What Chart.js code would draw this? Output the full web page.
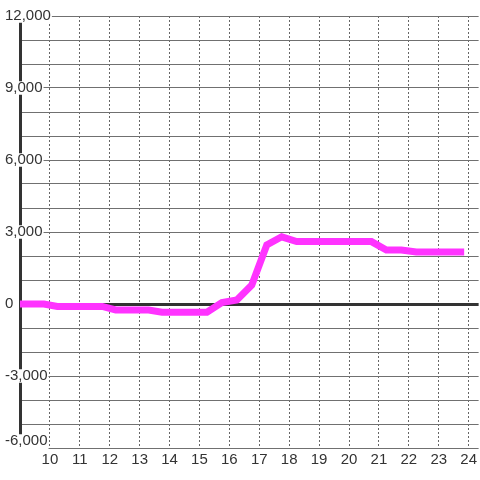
<!DOCTYPE html>
<html>
<head>
<meta charset="utf-8">
<script src="https://cdn.jsdelivr.net/npm/chart.js@4"></script>
<style>
  html, body { margin: 0; padding: 0; background: #fff; }
  #box { width: 480px; height: 480px; }
</style>
</head>
<body>
<div id="box"><canvas id="graf"></canvas></div>
<script>
// hodiny a hodnoty odcitane z obrazku
const hodiny = [9, 9.8, 10.25, 11.75, 12.2, 13.3, 13.75, 15.25, 15.75, 16.25, 16.75, 17.25, 17.75, 18.25, 20.75, 21.25, 21.75, 22.25, 23.85];
const hodnoty = [0, 0, -100, -100, -250, -250, -340, -340, 60, 170, 790, 2460, 2800, 2600, 2600, 2250, 2250, 2170, 2170];

const xMin = 9;
const xMax = 24.333;
const yMin = -6000;
const yMax = 12000;
const yKrok = 1000;
const yPopis = 3000;
// spodny popis je v obrazku trochu vyssie, druha os posunuta o ~7 px
const posun = 7 * (yMax - yMin) / 432;

const body = hodiny.map((h, i) => ({ x: h, y: hodnoty[i] }));

const data = {
  datasets: [{
    data: body,
    borderColor: '#ff33ff',
    borderWidth: 7,
    pointRadius: 0,
    tension: 0,
    borderCapStyle: 'butt',
    fill: false
  }]
};

const pismo = { family: 'Liberation Sans', size: 15, lineHeight: 0.9 };

var config = {
  type: 'line',
  data: data,
  options: {
    responsive: false,
    animation: false,
    maintainAspectRatio: false,
    layout: { padding: { left: 20, top: 16, right: 0, bottom: 0 } },
    plugins: { legend: { display: false }, tooltip: { enabled: false } },
    scales: {
      x: {
        type: 'linear',
        min: xMin,
        max: xMax,
        afterFit: (s) => { s.height = 32; },
        ticks: {
          stepSize: 1,
          includeBounds: false,
          autoSkip: false,
          maxRotation: 0,
          padding: 3,
          color: '#333',
          z: 1,
          font: { family: 'Liberation Sans', size: 15 },
          callback: (v) => v === xMin ? '' : String(v)
        },
        grid: {
          drawTicks: false,
          color: (c) => c.tick && c.tick.value === xMin ? 'rgba(0,0,0,0)' : '#666',
          lineWidth: 1
        },
        border: { display: false, dash: [2, 2] }
      },
      y: {
        min: yMin,
        max: yMax,
        afterFit: (s) => { s.width = 0; },
        ticks: {
          stepSize: yKrok,
          autoSkip: false,
          mirror: true,
          padding: -15,
          color: '#333',
          font: pismo,
          showLabelBackdrop: true,
          backdropColor: '#fff',
          backdropPadding: { left: 1, right: 1, top: 0, bottom: 0 },
          callback: (v) => (v % yPopis === 0 && v !== yMin) ? v.toLocaleString('en-US') : ''
        },
        grid: {
          drawTicks: false,
          color: (c) => c.tick && c.tick.value === 0 ? '#333' : '#707070',
          lineWidth: (c) => c.tick && c.tick.value === 0 ? 3 : 1
        },
        border: { display: true, color: '#333', width: 3 }
      },
      y2: {
        position: 'left',
        min: yMin - posun,
        max: yMax - posun,
        afterFit: (s) => { s.width = 0; },
        afterBuildTicks: (s) => { s.ticks = [{ value: yMin }]; },
        ticks: {
          autoSkip: false,
          mirror: true,
          padding: -15,
          color: '#333',
          font: pismo,
          showLabelBackdrop: true,
          backdropColor: '#fff',
          backdropPadding: { left: 1, right: 1, top: 0, bottom: 4 },
          callback: (v) => v.toLocaleString('en-US')
        },
        grid: { display: false, drawTicks: false },
        border: { display: false }
      }
    }
  }
};

var graf = document.getElementById('graf');
graf.width = 480;
graf.height = 480;
new Chart(graf.getContext('2d'), config);
</script>
</body>
</html>
